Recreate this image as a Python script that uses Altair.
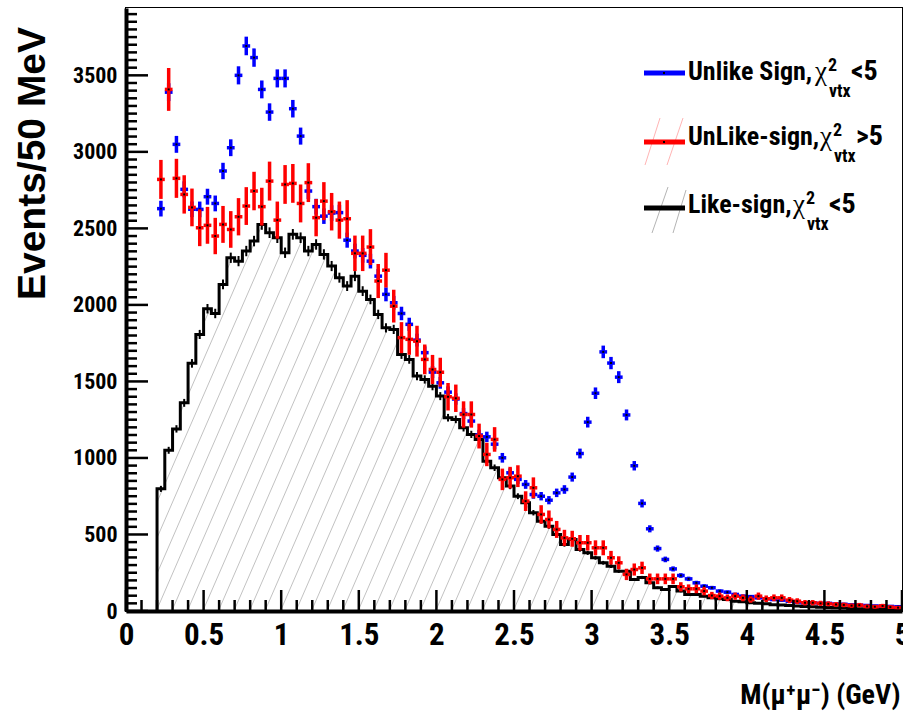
import altair as alt
import numpy as np
import pandas as pd

# ---------------- data ----------------
# 96 mass bins of 50 MeV, from 0.20 to 5.00 GeV (lower edges)
mass_low = [round(0.20 + 0.05 * i, 3) for i in range(96)]

like_sign = [
    798, 1050, 1190, 1360, 1618, 1807, 1975, 1944, 2134, 2308,
    2286, 2352, 2417, 2526, 2472, 2439, 2341, 2461, 2439, 2352,
    2395, 2330, 2254, 2178, 2123, 2188, 2090, 2036, 1938, 1850,
    1840, 1676, 1644, 1535, 1513, 1469, 1404, 1263, 1252, 1197,
    1154, 1121, 979, 936, 871, 816, 750, 707, 642, 587,
    554, 500, 435, 467, 402, 380, 348, 315, 293, 260,
    260, 206, 219, 184, 152, 141, 160, 130, 108, 108,
    97, 86, 80, 75, 64, 60, 54, 50, 47, 41,
    39, 36, 33, 30, 28, 25, 23, 21, 19, 17,
    15, 14, 12, 11, 10, 9,
]

unlike_chi_lt5 = [
    2629, 3390, 3049, 2755, 2625, 2624, 2707, 2663, 2875, 3027,
    3500, 3692, 3616, 3408, 3260, 3480, 3480, 3282, 3103, 2744,
    2642, 2580, 2600, 2603, 2423, 2352, 2324, 2286, 2188, 2069,
    2014, 1944, 1873, 1770, 1688, 1561, 1491, 1430, 1385, 1290,
    1241, 1150, 1138, 1090, 1001, 903, 860, 827, 761, 750,
    724, 772, 794, 875, 1029, 1234, 1423, 1693, 1620, 1528,
    1281, 949, 703, 537, 408, 337, 275, 232, 210, 184,
    162, 152, 130, 123, 108, 97, 94, 86, 80, 75,
    71, 64, 58, 54, 54, 50, 50, 46, 44, 40,
    38, 36, 33, 32, 30, 28,
]

unlike_chi_gt5 = [
    2820, 3408, 2827, 2722, 2637, 2504, 2520, 2450, 2526, 2493,
    2576, 2646, 2744, 2642, 2809, 2554, 2787, 2794, 2663, 2799,
    2570, 2678, 2609, 2554, 2563, 2337, 2337, 2378, 2156, 2227,
    1992, 1786, 1775, 1763, 1644, 1578, 1560, 1400, 1390, 1284,
    1284, 1143, 1023, 1121, 860, 871, 881, 718, 805, 631,
    598, 533, 478, 472, 446, 446, 413, 413, 348, 315,
    239, 271, 282, 210, 210, 210, 210, 158, 145, 145,
    130, 101, 97, 86, 97, 86, 75, 97, 80, 86,
    86, 71, 64, 54, 54, 50, 47, 43, 40, 35,
    38, 30, 28, 33, 25, 22,
]

x_major_ticks = [0, 0.5, 1, 1.5, 2, 2.5, 3, 3.5, 4, 4.5, 5]
x_minor_ticks = [round(0.1 * i, 1) for i in range(1, 50) if i % 5]
y_major_ticks = [0, 500, 1000, 1500, 2000, 2500, 3000, 3500]
y_minor_ticks = [v for v in range(50, 3950, 50) if v % 500]

assert len(like_sign) == len(unlike_chi_lt5) == len(unlike_chi_gt5) == 96

# ---------------- layout / style ----------------
W, H = 776, 603
YMAX = 3940
BW = 0.05
COND = "Roboto Condensed"
BLUE = "#0000ff"
RED = "#ff0000"

xs = alt.Scale(domain=[0, 5], nice=False, zero=False)
ys = alt.Scale(domain=[0, YMAX], nice=False, zero=False)

AX = alt.Axis(values=x_major_ticks, format="~g", title="M(μ⁺μ⁻) (GeV)",
              ticks=False, tickSize=0, grid=False, domainWidth=4, domainColor="black",
              labelFont=COND, labelFontWeight="bold", labelFontSize=31,
              labelColor="black", labelPadding=9, labelFlush=False, labelOverlap=False,
              titleFont=COND, titleFontWeight="bold", titleFontSize=28,
              titleColor="black", titleX=774, titleY=92, titleAlign="right",
              titleBaseline="alphabetic", zindex=1)
AY = alt.Axis(values=y_major_ticks, format="d", title="Events/50 MeV",
              ticks=False, tickSize=0, grid=False, domainWidth=4, domainColor="black",
              labelFont=COND, labelFontWeight="bold", labelFontSize=22,
              labelColor="black", labelPadding=9, labelFlush=False, labelOverlap=False,
              titleFont="Liberation Sans", titleFontWeight="bold", titleFontSize=39,
              titleColor="black", titleX=-82, titleY=155, titleAngle=270,
              titleAlign="center", titleBaseline="alphabetic", zindex=1)


def X(f):
    return alt.X(f, type="quantitative", scale=xs, axis=AX)


def Y(f):
    return alt.Y(f, type="quantitative", scale=ys, axis=AY)


one = pd.DataFrame({"a": [0]})

# ---------------- tables ----------------
low = np.array(mass_low)
ctr = low + BW / 2

# step outline of the like-sign histogram
hist_df = pd.DataFrame({
    "x": [0.2] + list(low) + [5.0],
    "y": [0] + like_sign + [like_sign[-1]],
})
hist_df["o"] = range(len(hist_df))

# white cover above the histogram (hides hatch lines there)
cover_df = pd.DataFrame({
    "x": [0.0] + list(low) + [5.0],
    "y": [0] + like_sign + [like_sign[-1]],
})
cover_df["top"] = YMAX

# hatch lines (decorative fill pattern of the like-sign histogram)
px_slope = 2.3
slope = px_slope * (W / 5) / (H / YMAX)
htop = 2700
hx0 = np.round(np.arange(-1.305, 5.0, 0.1), 3)
hatch_df = pd.DataFrame({"x": hx0, "x2": hx0 + htop / slope, "y": 0.0, "y2": float(htop)})

like_arr = np.array(like_sign, dtype=float)
blk_df = pd.DataFrame({"c": ctr, "v": like_arr,
                       "elo": like_arr - 0.7 * np.sqrt(like_arr),
                       "ehi": like_arr + 0.7 * np.sqrt(like_arr)})


def pts(vals, k):
    v = np.array(vals, dtype=float)
    e = k * np.sqrt(v)
    return pd.DataFrame({"c": ctr, "lo": low, "hi": low + BW, "v": v,
                         "elo": v - e, "ehi": v + e})


blue_df = pts(unlike_chi_lt5, 1.0)
red_df = pts(unlike_chi_gt5, 2.4)

# ---------------- layers ----------------
hatch = alt.Chart(hatch_df).mark_rule(color="#c2c2c2", strokeWidth=1, clip=True).encode(
    x=X("x"), x2="x2", y=Y("y"), y2="y2")
cover = alt.Chart(cover_df).mark_area(color="white", interpolate="step-after").encode(
    x=X("x"), y=Y("y"), y2="top")
hist = alt.Chart(hist_df).mark_line(color="black", strokeWidth=3,
                                    interpolate="step-after").encode(
    x=X("x"), y=Y("y"), order="o:Q")
blk_err = alt.Chart(blk_df).mark_rule(color="black", strokeWidth=2).encode(
    x=X("c"), y=Y("elo"), y2="ehi")


def point_layers(df, color):
    h = alt.Chart(df).mark_rule(color=color, strokeWidth=3.5).encode(
        x=X("lo"), x2="hi", y=Y("v"))
    v = alt.Chart(df).mark_rule(color=color, strokeWidth=3.5).encode(
        x=X("c"), y=Y("elo"), y2="ehi")
    d = alt.Chart(df).mark_square(color="black", size=4, opacity=1).encode(
        x=X("c"), y=Y("v"))
    return [h, v, d]


xt_major = alt.Chart(pd.DataFrame({"v": x_major_ticks})).mark_rule(
    color="black", strokeWidth=2.5).encode(x=X("v"), y=alt.value(H), y2=alt.value(H - 21))
xt_minor = alt.Chart(pd.DataFrame({"v": x_minor_ticks})).mark_rule(
    color="black", strokeWidth=2.5).encode(x=X("v"), y=alt.value(H), y2=alt.value(H - 11))
yt_major = alt.Chart(pd.DataFrame({"v": y_major_ticks})).mark_rule(
    color="black", strokeWidth=2.5).encode(y=Y("v"), x=alt.value(0), x2=alt.value(22))
yt_minor = alt.Chart(pd.DataFrame({"v": y_minor_ticks})).mark_rule(
    color="black", strokeWidth=2.5).encode(y=Y("v"), x=alt.value(0), x2=alt.value(11))


# ---------------- legend (drawn by hand, ROOT style) ----------------
def lrule(x1, y1, x2, y2, color, w):
    return alt.Chart(one).mark_rule(color=color, strokeWidth=w).encode(
        x=alt.value(x1), x2=alt.value(x2), y=alt.value(y1), y2=alt.value(y2))


def ltext(s, x, y, size, font=COND, weight="bold"):
    return alt.Chart(one).mark_text(text=s, font=font, fontWeight=weight, fontSize=size,
                                    align="left", baseline="alphabetic",
                                    color="black").encode(x=alt.value(x), y=alt.value(y))


def lchi(s, x, y):
    # "chi^2_vtx <cut>" with stacked super/subscript
    return [
        ltext("χ", x, y, 27, font="Liberation Serif", weight="normal"),
        ltext("2", x + 13, y - 9, 18),
        ltext("vtx", x + 14, y + 17, 18),
        ltext(s, x + 36, y, 28),
    ]


def ldot(x, y):
    return alt.Chart(one).mark_square(color="black", size=4, opacity=1).encode(
        x=alt.value(x), y=alt.value(y))


legend = [
    lrule(518, 65, 559, 65, BLUE, 5), ldot(538, 65),
    lrule(519, 157, 534, 110, "#ffb4b4", 1), lrule(541, 157, 557, 110, "#ffb4b4", 1),
    lrule(518, 134, 559, 134, RED, 5), ldot(538, 134),
    lrule(526, 225, 542, 179, "#b4b4b4", 1), lrule(547, 225, 560, 182, "#b4b4b4", 1),
    lrule(518, 200, 559, 200, "black", 5),
    ltext("Unlike Sign,", 562, 72, 26), *lchi("<5", 689, 72),
    ltext("UnLike-sign,", 562, 137, 26), *lchi(">5", 694, 137),
    ltext("Like-sign,", 562, 205, 26), *lchi("<5", 667, 205),
]

layers = ([hatch, cover, hist, blk_err]
          + point_layers(blue_df, BLUE) + point_layers(red_df, RED)
          + [xt_major, xt_minor, yt_major, yt_minor] + legend)

chart = alt.layer(*layers).properties(
    width=W, height=H,
    padding={"left": 126, "top": 8, "right": 1, "bottom": 104},
    autosize=alt.AutoSizeParams(type="none"),
    background="white",
).configure_view(stroke="black", strokeWidth=2)

chart.save("out.html", embed_options={"renderer": "svg", "actions": False})
